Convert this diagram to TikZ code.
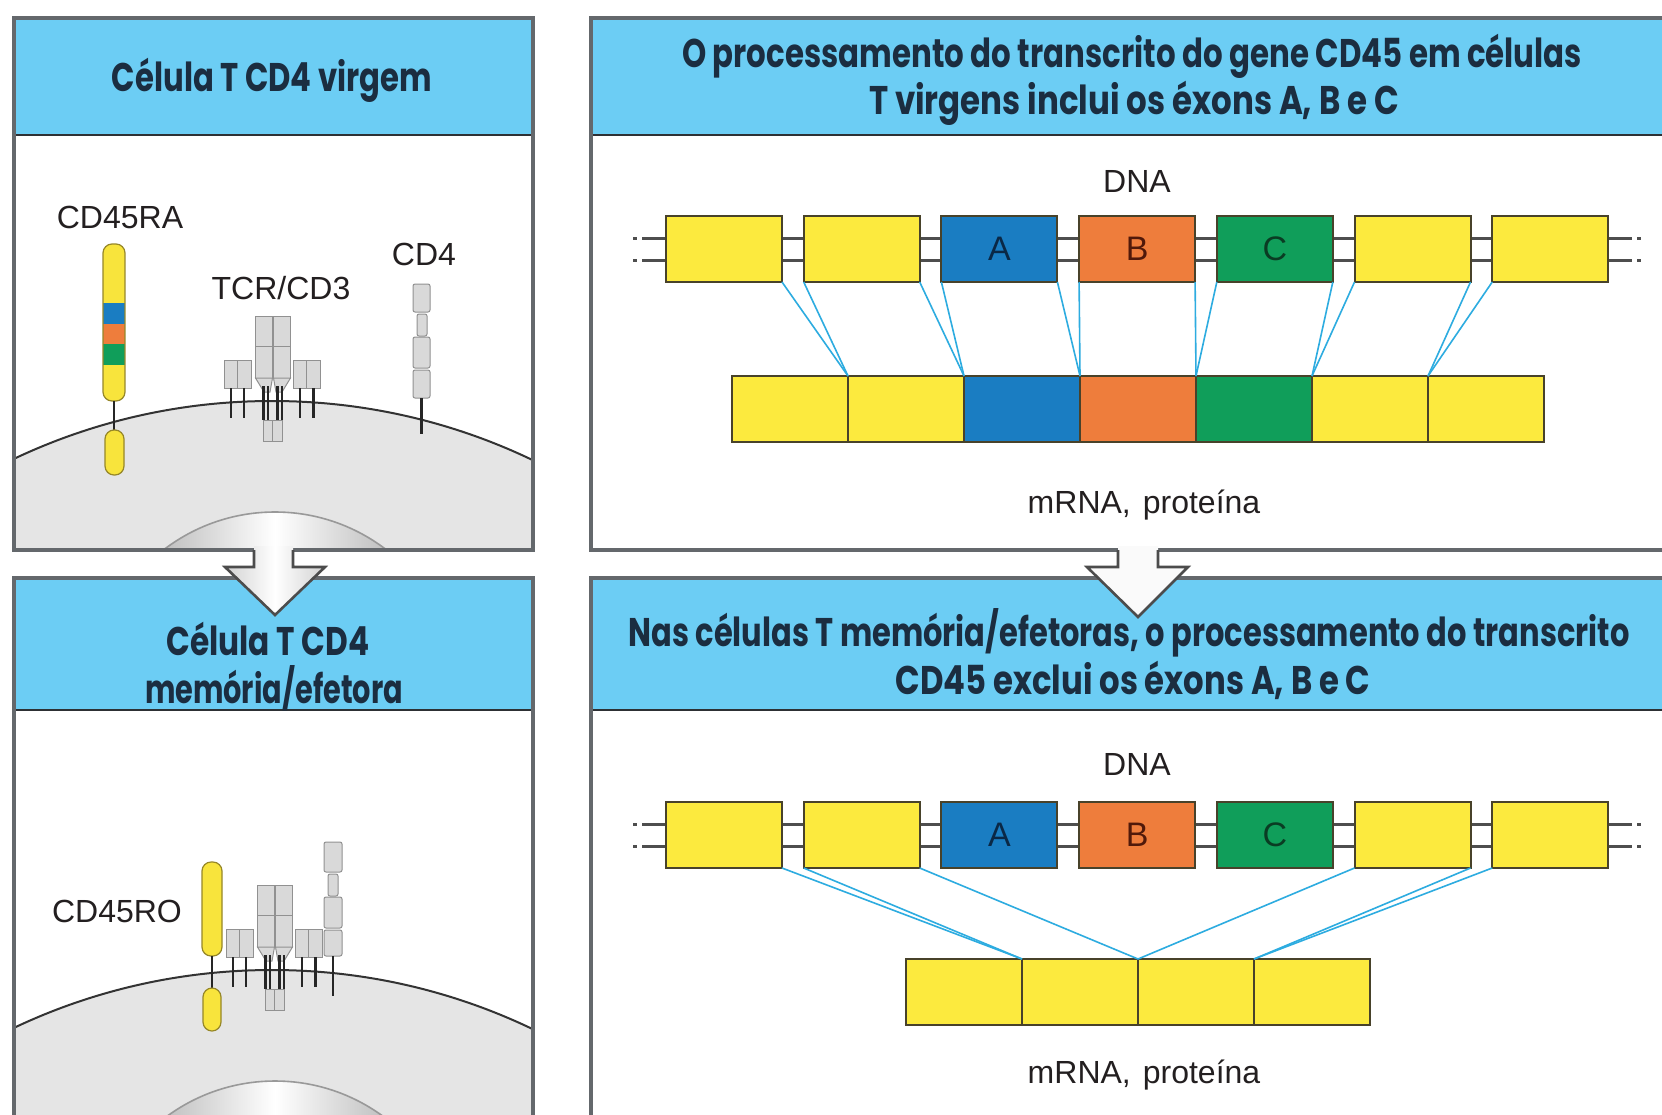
\documentclass[tikz,border=0pt]{standalone}
\usepackage{fontspec}
\usepackage{graphicx}
\setmainfont{Liberation Sans}
\newfontfamily\headfont{Poppins}
\usetikzlibrary{calc}

\definecolor{headblue}{RGB}{108,205,244}
\definecolor{headtext}{RGB}{27,45,64}
\definecolor{framegray}{RGB}{100,104,108}
\definecolor{ruledark}{RGB}{45,48,52}
\definecolor{exyellow}{RGB}{252,234,62}
\definecolor{exblue}{RGB}{26,125,194}
\definecolor{exorange}{RGB}{238,125,60}
\definecolor{exgreen}{RGB}{16,158,90}
\definecolor{exedge}{RGB}{72,66,42}
\definecolor{splice}{RGB}{45,172,224}
\definecolor{strand}{RGB}{78,78,78}
\definecolor{cellgray}{RGB}{229,229,229}
\definecolor{protgray}{RGB}{217,217,217}
\definecolor{protedge}{RGB}{145,145,145}
\definecolor{inktext}{RGB}{35,31,32}
\definecolor{cdyellow}{RGB}{248,228,60}
\definecolor{cdedge}{RGB}{150,135,40}
\definecolor{letterA}{RGB}{10,40,70}
\definecolor{letterB}{RGB}{80,25,10}
\definecolor{letterC}{RGB}{10,60,35}

% squeeze a line of text to a given width, keeping its height
\newcommand\squeeze[2]{\resizebox{#1}{\height}{#2}}

\tikzset{
  headline/.style={anchor=base, inner sep=0pt, text=headtext,
    font=\headfont\bfseries\fontsize{40}{48}\selectfont},
  lbl/.style={anchor=base, inner sep=0pt, text=inktext,
    font=\fontsize{32}{38}\selectfont},
  exon/.style={draw=exedge, line width=2pt, minimum width=116pt,
    minimum height=66pt, inner sep=0pt, outer sep=0pt,
    font=\fontsize{34}{34}\selectfont},
  seg/.style={draw=exedge, line width=2pt, minimum width=116pt,
    minimum height=66pt, inner sep=0pt, outer sep=0pt},
  splicing/.style={draw=splice, line width=1.6pt},
  strandline/.style={draw=strand, line width=3pt},
  panelframe/.style={draw=framegray, line width=3.5pt},
  headrule/.style={draw=ruledark, line width=2.6pt},
  membrane/.style={draw=black!80, line width=2pt},
  nucedge/.style={draw=gray!80, line width=1.6pt},
  prot/.style={fill=protgray, draw=protedge, line width=1pt},
  tm/.style={draw=black!85, line width=2.2pt},
  cdedgeline/.style={draw=cdedge, line width=1.2pt, rounded corners=8pt},
  hollow/.style={draw=black!70, line width=2.6pt, line join=miter},
}

% TCR/CD3 complex, drawn in the coordinates of the upper cell
\newcommand\tcrcomplex{%
  \foreach \xa in {224,237.5,293,306.5}{\draw[prot] (\xa,360) rectangle ++(13.5,28);}
  \foreach \xs in {231,244,300,313.5}{\draw[tm] (\xs,388) -- (\xs,418);}
  \draw[prot] (255.5,316) rectangle (272.5,346);
  \draw[prot] (255.5,346) rectangle (272.5,378);
  \draw[prot] (273.5,316) rectangle (290.5,346);
  \draw[prot] (273.5,346) rectangle (290.5,378);
  \draw[prot] (255.5,378) -- (272.5,378) -- (270,392) -- (264,392) -- cycle;
  \draw[prot] (273.5,378) -- (290.5,378) -- (282,392) -- (276,392) -- cycle;
  \foreach \xs in {263.5,268,277.5,282}{\draw[tm] (\xs,386) -- (\xs,420);}
  \draw[prot] (263,420) rectangle (272.5,441);
  \draw[prot] (272.5,420) rectangle (282,441);
}

% cell body with membrane and nucleus; #1 = vertical offset
\newcommand\cellbody[3]{%
  \begin{scope}
    \clip (14,#2) rectangle (533,#3);
    \fill[cellgray] (272,1004+#1) circle[radius=603pt];
    \begin{scope}
      \clip (275,695+#1) circle[radius=183pt];
      \shade[left color=gray!50, right color=gray!50, middle color=white]
        (163,500+#1) rectangle (387,600+#1);
    \end{scope}
    \draw[nucedge] (275,695+#1) circle[radius=183pt];
    \draw[membrane] (272,1004+#1) circle[radius=603pt];
  \end{scope}
}

\begin{document}
\begin{tikzpicture}[x=1pt, y=-1pt]
\useasboundingbox (0,0) rectangle (1662,1114);
\clip (0,0) rectangle (1662,1114);
\fill[white] (0,0) rectangle (1662,1114);

% ---------------- upper left: naive cell ----------------
\cellbody{0}{135}{550}
% CD45RA
\begin{scope}
  \clip[rounded corners=9pt] (103,244) rectangle (125,401);
  \fill[cdyellow] (103,244) rectangle (125,401);
  \fill[exblue] (103,303) rectangle (125,324);
  \fill[exorange] (103,324) rectangle (125,344);
  \fill[exgreen] (103,344) rectangle (125,365);
\end{scope}
\draw[cdedgeline, rounded corners=9pt] (103,244) rectangle (125,401);
\draw[tm] (114,401) -- (114,431);
\draw[cdedgeline, fill=cdyellow, rounded corners=9pt] (105,430) rectangle (124,475);
% TCR/CD3
\tcrcomplex
% CD4
\draw[prot, rounded corners=2pt] (413,284) rectangle (430,312);
\draw[prot, rounded corners=2pt] (417,314) rectangle (427,336);
\draw[prot, rounded corners=2pt] (413,337) rectangle (430,368);
\draw[prot, rounded corners=2pt] (413,370) rectangle (430,398);
\draw[tm] (421.5,398) -- (421.5,434);

\node[lbl] (cd45ra) at (120,228) {CD45RA};
\node[lbl] (tcr) at (281,299) {TCR/CD3};
\node[lbl] (cd4) at (424,265) {CD4};

\fill[headblue] (14,18) rectangle (533,135);
\draw[headrule] (14,135) -- (533,135);
\draw[panelframe] (254,550) -- (14,550) -- (14,18) -- (533,18) -- (533,550) -- (293,550);
\node[headline] (t1) at (272,91) {\squeeze{320pt}{Célula T CD4 virgem}};

% ---------------- lower left: memory/effector cell ----------------
\cellbody{569}{710}{1120}
% CD45RO
\draw[cdedgeline, fill=cdyellow, rounded corners=9pt] (202,862) rectangle (222,956);
\draw[tm] (212,956) -- (212,989);
\draw[cdedgeline, fill=cdyellow, rounded corners=9pt] (203,988) rectangle (221,1031);
% TCR/CD3
\begin{scope}[shift={(2,569)}]
  \tcrcomplex
\end{scope}
% CD4
\draw[prot, rounded corners=2pt] (324,842) rectangle (342,872);
\draw[prot, rounded corners=2pt] (328,874) rectangle (338,896);
\draw[prot, rounded corners=2pt] (324,897) rectangle (342,928);
\draw[prot, rounded corners=2pt] (324,930) rectangle (342,956);
\draw[tm] (333,956) -- (333,996);

\node[lbl] (cd45ro) at (117,922) {CD45RO};

\fill[headblue] (14,578) rectangle (533,710);
\draw[headrule] (14,710) -- (533,710);
\draw[panelframe] (14,1120) -- (14,578) -- (533,578) -- (533,1120);
\node[headline] (t2a) at (268,655) {\squeeze{203pt}{Célula T CD4}};
\node[headline] (t2b) at (274,703) {\squeeze{258pt}{memória/efetora}};

% ---------------- upper right: splicing in naive cells ----------------
\fill[headblue] (591,18) rectangle (1680,135);
\draw[headrule] (591,135) -- (1680,135);
\draw[panelframe] (1118,550) -- (591,550) -- (591,18) -- (1680,18);
\draw[panelframe] (1158,550) -- (1680,550);
\node[headline] (t3a) at (1132,67) {\squeeze{900pt}{O processamento do transcrito do gene CD45 em células}};
\node[headline] (t3b) at (1134,114) {\squeeze{530pt}{T virgens inclui os éxons A, B e C}};

\node[lbl] (dna1) at (1137,192) {DNA};
\coordinate (sl1) at (642,249);
\coordinate (sr1) at (1632,249);
\draw[strandline] ($(sl1)+(0,-11)$) -- ($(sr1)+(0,-11)$);
\draw[strandline] ($(sl1)+(0,11)$) -- ($(sr1)+(0,11)$);
\draw[strandline] ($(sl1)+(-9,-11)$) -- ($(sl1)+(-5,-11)$);
\draw[strandline] ($(sl1)+(-9,11)$) -- ($(sl1)+(-5,11)$);
\draw[strandline] ($(sr1)+(5,-11)$) -- ($(sr1)+(9,-11)$);
\draw[strandline] ($(sr1)+(5,11)$) -- ($(sr1)+(9,11)$);

\node[exon, fill=exyellow] (a1) at (724,249) {};
\node[exon, fill=exyellow] (a2) at (861.7,249) {};
\node[exon, fill=exblue, text=letterA] (a3) at (999.4,249) {A};
\node[exon, fill=exorange, text=letterB] (a4) at (1137.1,249) {B};
\node[exon, fill=exgreen, text=letterC] (a5) at (1274.8,249) {C};
\node[exon, fill=exyellow] (a6) at (1412.5,249) {};
\node[exon, fill=exyellow] (a7) at (1550.2,249) {};

\foreach \i/\c in {1/exyellow,2/exyellow,3/exblue,4/exorange,5/exgreen,6/exyellow,7/exyellow}
  \node[seg, fill=\c] (m\i) at ({790+116*(\i-1)},409) {};

\foreach \i/\j in {1/2,2/3,3/4,4/5,5/6,6/7}{
  \draw[splicing] (a\i.south east) -- (m\i.north east);
  \draw[splicing] (a\j.south west) -- (m\i.north east);
}
\node[lbl] (prot1) at (1144,513) {mRNA,\hspace{12pt}proteína};

% ---------------- lower right: splicing in memory/effector cells ----------------
\fill[headblue] (591,578) rectangle (1680,710);
\draw[headrule] (591,710) -- (1680,710);
\draw[panelframe] (591,1120) -- (591,578) -- (1680,578);
\node[headline] (t4a) at (1129,646) {\squeeze{1001pt}{Nas células T memória/efetoras, o processamento do transcrito}};
\node[headline] (t4b) at (1133,694) {\squeeze{475pt}{CD45 exclui os éxons A, B e C}};

\node[lbl] (dna2) at (1137,775) {DNA};
\coordinate (sl2) at (642,835);
\coordinate (sr2) at (1632,835);
\draw[strandline] ($(sl2)+(0,-11)$) -- ($(sr2)+(0,-11)$);
\draw[strandline] ($(sl2)+(0,11)$) -- ($(sr2)+(0,11)$);
\draw[strandline] ($(sl2)+(-9,-11)$) -- ($(sl2)+(-5,-11)$);
\draw[strandline] ($(sl2)+(-9,11)$) -- ($(sl2)+(-5,11)$);
\draw[strandline] ($(sr2)+(5,-11)$) -- ($(sr2)+(9,-11)$);
\draw[strandline] ($(sr2)+(5,11)$) -- ($(sr2)+(9,11)$);

\node[exon, fill=exyellow] (b1) at (724,835) {};
\node[exon, fill=exyellow] (b2) at (861.7,835) {};
\node[exon, fill=exblue, text=letterA] (b3) at (999.4,835) {A};
\node[exon, fill=exorange, text=letterB] (b4) at (1137.1,835) {B};
\node[exon, fill=exgreen, text=letterC] (b5) at (1274.8,835) {C};
\node[exon, fill=exyellow] (b6) at (1412.5,835) {};
\node[exon, fill=exyellow] (b7) at (1550.2,835) {};

\foreach \i in {1,2,3,4}
  \node[seg, fill=exyellow] (n\i) at ({964+116*(\i-1)},992) {};

\draw[splicing] (b1.south east) -- (n1.north east);
\draw[splicing] (b2.south west) -- (n1.north east);
\draw[splicing] (b2.south east) -- (n2.north east);
\draw[splicing] (b6.south west) -- (n2.north east);
\draw[splicing] (b6.south east) -- (n3.north east);
\draw[splicing] (b7.south west) -- (n3.north east);
\node[lbl] (prot2) at (1144,1083) {mRNA,\hspace{12pt}proteína};

% ---------------- hollow arrows between the rows ----------------
\shade[left color=gray!35, right color=gray!35, middle color=white]
  (254,546) -- (254,567) -- (225,567) -- (275,615) -- (325,567) -- (293,567) -- (293,546) -- cycle;
\draw[hollow] (254,550) -- (254,567) -- (225,567) -- (275,615) -- (325,567) -- (293,567) -- (293,550);

\fill[white!96!gray]
  (1118,546) -- (1118,567) -- (1087,567) -- (1138,617) -- (1188,567) -- (1158,567) -- (1158,546) -- cycle;
\draw[hollow] (1118,550) -- (1118,567) -- (1087,567) -- (1138,617) -- (1188,567) -- (1158,567) -- (1158,550);
\end{tikzpicture}
\end{document}
